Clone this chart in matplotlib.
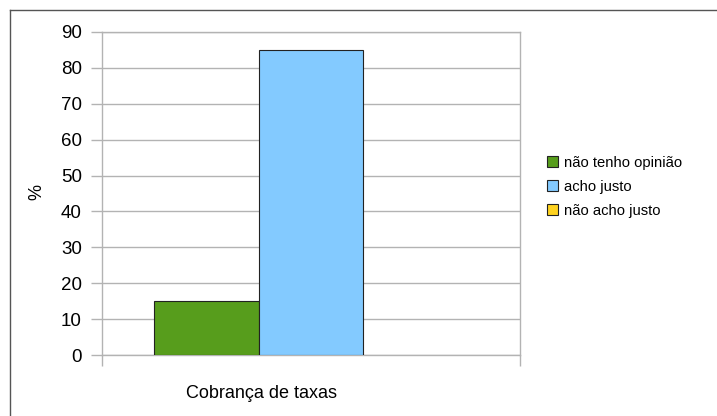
import matplotlib
matplotlib.use("Agg")
import matplotlib.pyplot as plt
from matplotlib.lines import Line2D

plt.rcParams['font.family'] = ['Liberation Sans', 'DejaVu Sans']

category = "Cobrança de taxas"
series = ["não tenho opinião", "acho justo", "não acho justo"]
values = [15, 85, 0]
colors = ["#579d1c", "#83caff", "#ffd320"]
yticks = [0, 10, 20, 30, 40, 50, 60, 70, 80, 90]

W, H = 717, 416
fig = plt.figure(figsize=(W / 100, H / 100), dpi=100)
ax = fig.add_axes([102 / W, (H - 355) / H, 418 / W, 323 / H])

width = 0.25
n = len(series)
for i, (s, v, c) in enumerate(zip(series, values, colors)):
    x = (i - (n - 1) / 2) * width
    ax.bar(x, v, width=width, color=c, edgecolor="#222222",
           linewidth=0.8 if v > 0 else 0, label=s, zorder=3)

ax.set_xlim(-0.5, 0.5)
ax.set_ylim(0, 90)
ax.set_yticks(yticks)
ax.set_yticklabels([str(t) for t in yticks], fontsize=13.5)
ax.yaxis.grid(True, color="#b3b3b3", linewidth=1.0, zorder=0)
ax.tick_params(axis='y', length=8, width=1, color="#b3b3b3", pad=6.5)
ax.set_xticks([-0.5, 0.5])
ax.set_xticklabels(["", ""])
ax.tick_params(axis='x', length=8, width=1, color="#b3b3b3")
for sp in ax.spines.values():
    sp.set_color("#b3b3b3")
    sp.set_linewidth(1.0)

fig.text(262 / W, 1 - 393 / H, category, fontsize=13, ha='center', va='center')
fig.text(37 / W, 1 - 192 / H, "%", fontsize=13, ha='center', va='center',
         rotation=90)

leg = fig.legend(loc='upper left', bbox_to_anchor=(547 / W, 1 - 155.5 / H),
                 frameon=False, fontsize=10.6, handlelength=0.78,
                 handleheight=0.78, handletextpad=0.4, labelspacing=0.68,
                 borderpad=0, borderaxespad=0)
for h in leg.legend_handles:
    h.set_edgecolor("#222222")
    h.set_linewidth(0.8)

# outer border (left and top)
fig.add_artist(Line2D([9.5 / W, 9.5 / W], [0, 1 - 9.5 / H], color="#555555",
                      linewidth=1.0, transform=fig.transFigure))
fig.add_artist(Line2D([9.5 / W, 1], [1 - 9.5 / H, 1 - 9.5 / H],
                      color="#555555", linewidth=1.0,
                      transform=fig.transFigure))

fig.savefig("out.png", dpi=100)
